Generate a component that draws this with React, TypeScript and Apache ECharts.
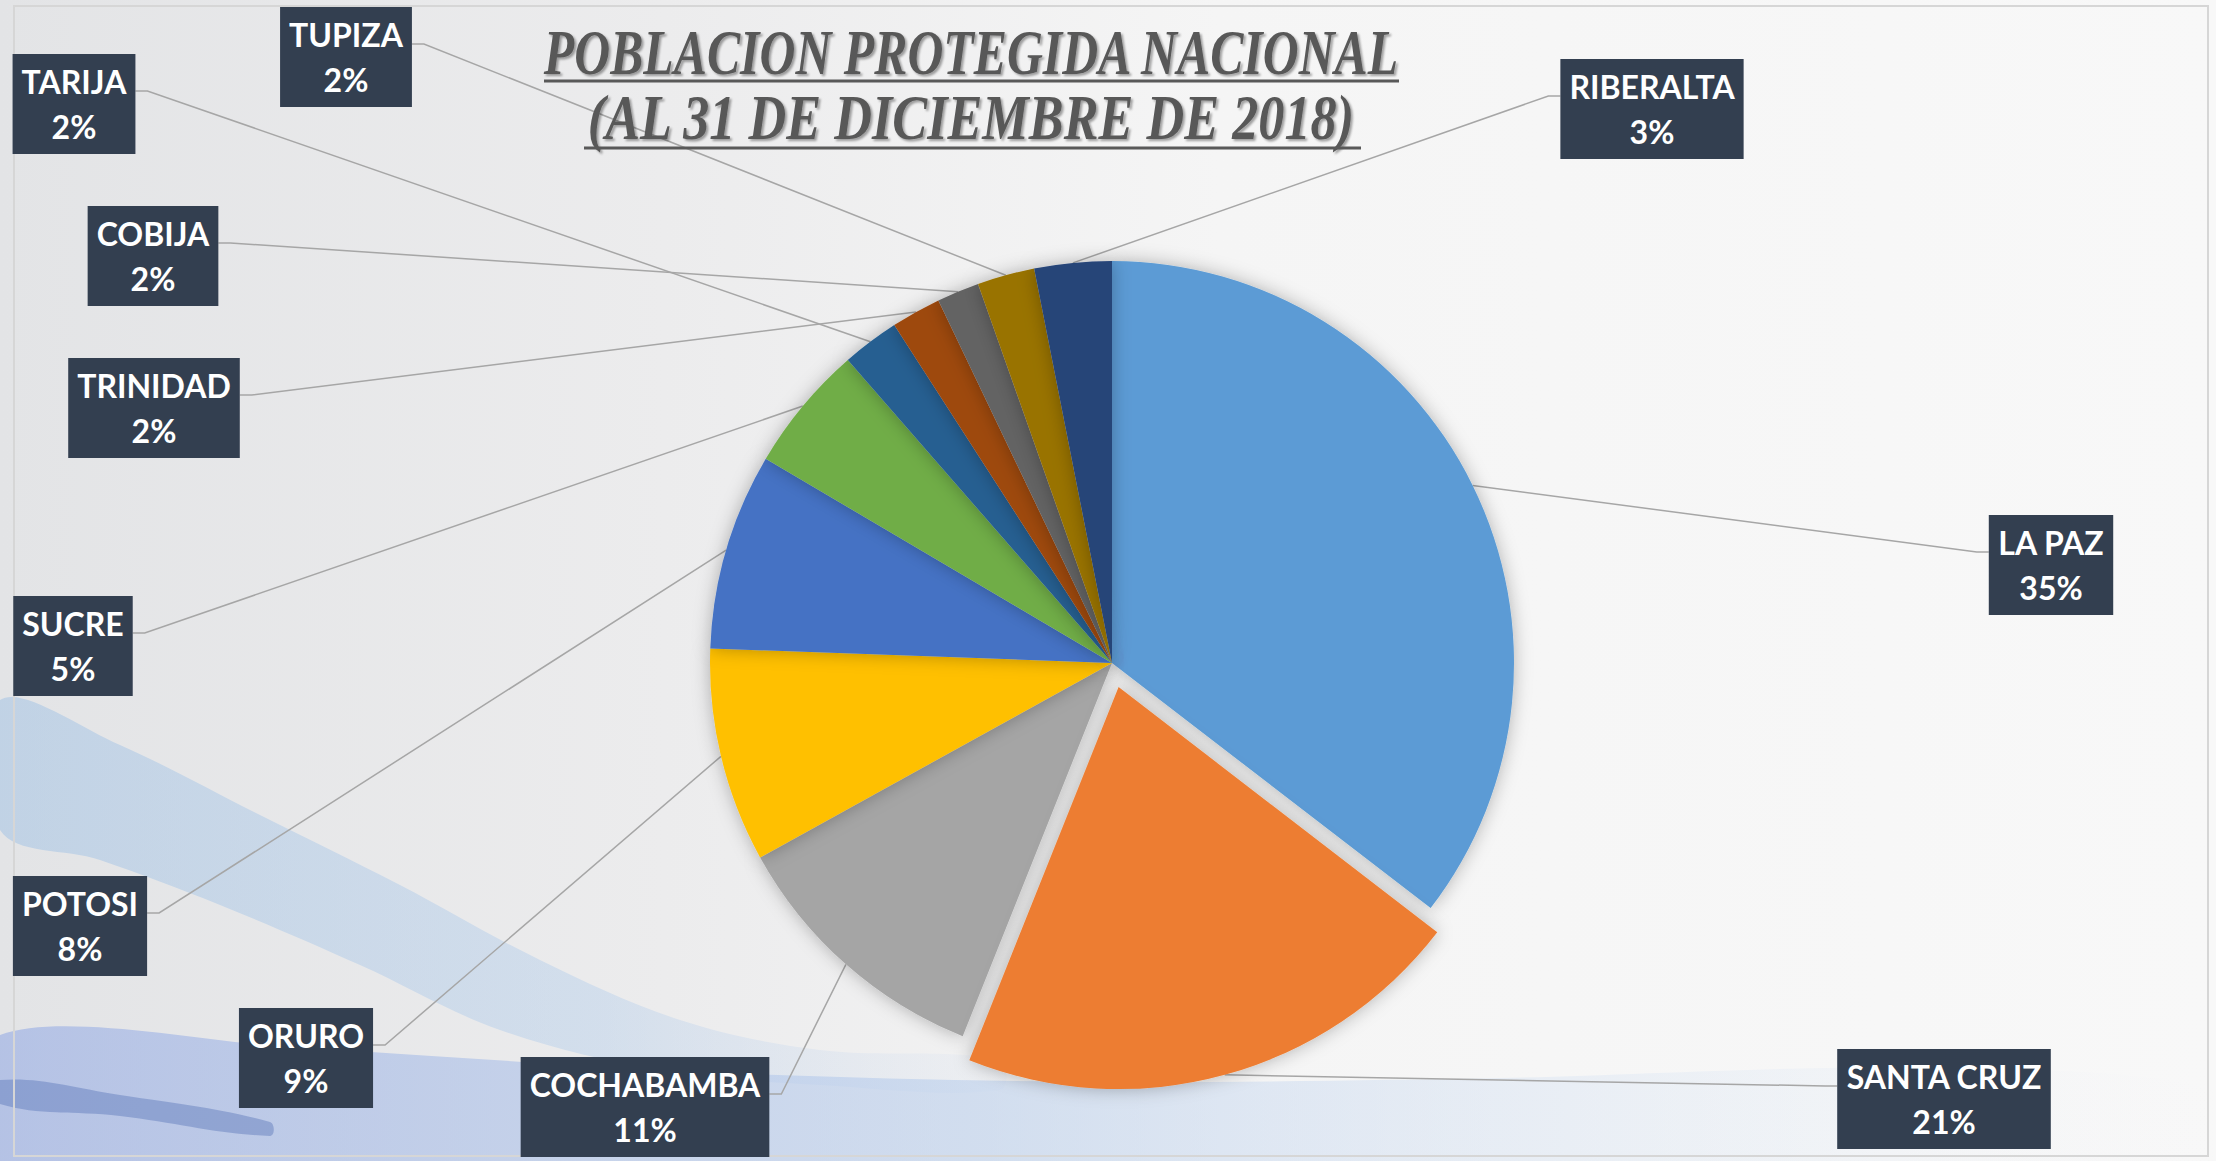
import React, { useEffect, useRef } from 'react';
import * as echarts from 'echarts';

// ---- data ----
const categories = ['LA PAZ', 'SANTA CRUZ', 'COCHABAMBA', 'ORURO', 'POTOSI', 'SUCRE', 'TARIJA', 'TRINIDAD', 'COBIJA', 'TUPIZA', 'RIBERALTA'];
const shares = [35.4, 20.6, 10.9, 8.6, 7.9, 5.1, 2.3, 2.0, 1.7, 2.3, 3.1];
const sliceColors = ['#5B9BD5', '#ED7D31', '#A5A5A5', '#FFC000', '#4472C4', '#70AD47', '#255E91', '#9E480E', '#636363', '#997300', '#264478'];
const explodedCategory = 'SANTA CRUZ';
const titleLines = ['POBLACION PROTEGIDA NACIONAL', '(AL 31 DE DICIEMBRE DE 2018)'];

// label box placement (layout): [centre x, top y]
const labelPlacement: number[][] = [
  [2051, 515], [1944, 1049], [645, 1057], [306, 1008], [80, 876], [73, 596],
  [74, 54], [154, 358], [153, 206], [346, 7], [1652, 59],
];

const PIE_CENTER = [1112, 663];
const PIE_RADIUS = 402;
const EXPLODE_OFFSET = 25;

export default function App() {
  const ref = useRef<HTMLDivElement>(null);
  useEffect(() => {
    if (!ref.current) return;
    const chart = echarts.init(ref.current, undefined, { renderer: 'svg' });
    const W = 2216, H = 1161;

    const total = shares.reduce((a, b) => a + b, 0);
    const exIdx = categories.indexOf(explodedCategory);
    const before = shares.slice(0, exIdx).reduce((a, b) => a + b, 0);
    const midAngle = ((before + shares[exIdx] / 2) / total) * Math.PI * 2;
    const exCenter = [
      PIE_CENTER[0] + EXPLODE_OFFSET * Math.sin(midAngle),
      PIE_CENTER[1] - EXPLODE_OFFSET * Math.cos(midAngle),
    ];

    const labelStyle = {
      show: true,
      position: 'outside',
      formatter: '{b}\n{d}%',
      color: '#ffffff',
      fontFamily: 'Lato',
      fontWeight: 'bold',
      fontSize: 32,
      lineHeight: 45,
      backgroundColor: '#333F50',
      padding: [5, 9, 5, 9],
      align: 'center',
    };

    const labelLayout = (p: any) => {
      const [cx, top] = labelPlacement[p.dataIndex];
      const w = p.labelRect.width;
      const h = p.labelRect.height;
      const left = cx - w / 2;
      const res: any = { x: cx, y: top, align: 'center', verticalAlign: 'top' };
      const pts = p.labelLinePoints;
      if (pts && pts[0]) {
        const start = pts[0];
        const onLeft = cx < start[0];
        const ex = onLeft ? left + w : left;
        const ey = top + h * 0.37;
        res.labelLinePoints = [start, [onLeft ? ex + 12 : ex - 12, ey], [ex, ey]];
      }
      return res;
    };

    const hiddenItem = {
      itemStyle: { color: 'rgba(0,0,0,0)', shadowBlur: 0, shadowColor: 'rgba(0,0,0,0)' },
      label: { show: false },
      labelLine: { show: false },
    };

    const makeSeries = (center: number[], showExploded: boolean) => ({
      type: 'pie',
      center,
      radius: PIE_RADIUS,
      startAngle: 90,
      clockwise: true,
      avoidLabelOverlap: false,
      percentPrecision: 0,
      silent: true,
      emphasis: { disabled: true },
      itemStyle: { shadowBlur: 18, shadowColor: 'rgba(0,0,0,0.28)', borderWidth: 0 },
      label: labelStyle,
      labelLine: { show: true, length: 10, length2: 10, lineStyle: { color: '#A6A6A6', width: 1.5 } },
      labelLayout,
      data: categories.map((name, i) => {
        const visible = (name === explodedCategory) === showExploded;
        return visible
          ? { name, value: shares[i], itemStyle: { color: sliceColors[i] } }
          : { name, value: shares[i], ...hiddenItem };
      }),
    });

    const option: any = {
      animation: false,
      graphic: [
        {
          type: 'rect', z: -10, silent: true,
          shape: { x: 0, y: 0, width: W, height: H },
          style: {
            fill: new echarts.graphic.LinearGradient(0, 0, 1, 0, [
              { offset: 0, color: '#e3e4e6' },
              { offset: 0.3, color: '#ececed' },
              { offset: 0.55, color: '#f5f5f5' },
              { offset: 1, color: '#f8f8f8' },
            ]),
          },
        },
        {
          type: 'polygon', z: -9, silent: true,
          shape: {
            smooth: 0.35,
            points: [[0, 700], [120, 745], [260, 815], [400, 885], [540, 960], [680, 1020], [820, 1050], [1000, 1060],
              [1000, 1090], [820, 1085], [660, 1070], [500, 1030], [360, 965], [220, 905], [100, 860], [0, 830]],
          },
          style: {
            fill: new echarts.graphic.LinearGradient(0, 0, 1, 0, [
              { offset: 0, color: 'rgba(150,188,228,0.45)' },
              { offset: 0.6, color: 'rgba(165,198,235,0.35)' },
              { offset: 1, color: 'rgba(200,215,240,0.1)' },
            ]),
          },
        },
        {
          type: 'polygon', z: -9, silent: true,
          shape: {
            smooth: 0.3,
            points: [[0, 1035], [300, 1048], [700, 1072], [1100, 1082], [1500, 1078], [1900, 1068], [2216, 1090], [2216, 1161], [0, 1161]],
          },
          style: {
            fill: new echarts.graphic.LinearGradient(0, 0, 1, 0, [
              { offset: 0, color: 'rgba(155,175,228,0.65)' },
              { offset: 0.45, color: 'rgba(178,202,236,0.5)' },
              { offset: 0.8, color: 'rgba(215,228,245,0.25)' },
              { offset: 1, color: 'rgba(240,240,245,0)' },
            ]),
          },
        },
        {
          type: 'polygon', z: -9, silent: true,
          shape: { smooth: 0.4, points: [[0, 1080], [120, 1095], [270, 1122], [270, 1136], [120, 1116], [0, 1104]] },
          style: { fill: 'rgba(80,110,180,0.4)' },
        },
        {
          type: 'rect', z: -8, silent: true,
          shape: { x: 14, y: 6, width: 2194, height: 1150 },
          style: { fill: 'none', stroke: '#d6d6d6', lineWidth: 2 },
        },
        {
          type: 'text', z: 10, x: 971, y: 52, scaleX: 0.79, silent: true,
          style: {
            text: titleLines[0], x: 0, y: 0, align: 'center', verticalAlign: 'middle',
            fontFamily: '"Liberation Serif"', fontStyle: 'italic', fontWeight: 'bold', fontSize: 63,
            fill: '#595959', textShadowColor: 'rgba(0,0,0,0.35)', textShadowOffsetX: 2, textShadowOffsetY: 2, textShadowBlur: 2,
          },
        },
        {
          type: 'text', z: 10, x: 971, y: 118, scaleX: 0.83, silent: true,
          style: {
            text: titleLines[1], x: 0, y: 0, align: 'center', verticalAlign: 'middle',
            fontFamily: '"Liberation Serif"', fontStyle: 'italic', fontWeight: 'bold', fontSize: 63,
            fill: '#595959', textShadowColor: 'rgba(0,0,0,0.35)', textShadowOffsetX: 2, textShadowOffsetY: 2, textShadowBlur: 2,
          },
        },
        { type: 'line', z: 10, silent: true, shape: { x1: 544, y1: 81, x2: 1399, y2: 81 }, style: { stroke: '#595959', lineWidth: 3 } },
        { type: 'line', z: 10, silent: true, shape: { x1: 584, y1: 148, x2: 1361, y2: 148 }, style: { stroke: '#595959', lineWidth: 3 } },
      ],
      series: [makeSeries(PIE_CENTER, false), makeSeries(exCenter, true)],
    };
    chart.setOption(option);
    return () => chart.dispose();
  }, []);
  return <div ref={ref} style={{ position: 'absolute', left: 0, top: 0, width: 2216, height: 1161 }} />;
}
